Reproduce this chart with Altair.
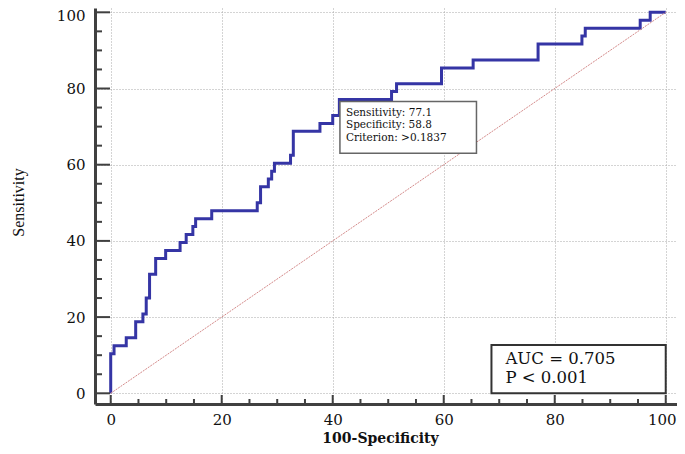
import altair as alt
import pandas as pd

# ROC curve vertices (100-Specificity, Sensitivity): at each fpr the curve rises to tpr
fpr = [0, 0, 0.6, 2.8, 4.5, 5.8, 6.4, 7.0, 8.1, 9.9, 12.5, 13.6, 14.8, 15.3, 18.2,
       26.4, 27.0, 28.4, 29.0, 29.5, 32.4, 32.9, 37.7, 40.0, 41.2,
       50.6, 51.5, 59.6, 65.3, 77.0, 84.9, 85.5, 95.4, 97.2, 100]
tpr = [0, 10.4, 12.5, 14.6, 18.75, 20.8, 25.0, 31.25, 35.4, 37.5, 39.6, 41.7, 43.75, 45.8, 47.9,
       50.0, 54.2, 56.25, 58.3, 60.4, 62.5, 68.75, 70.8, 72.9, 77.1,
       79.2, 81.25, 85.4, 87.5, 91.7, 93.75, 95.8, 97.9, 100, 100]

diag = [0, 100]
major_values = [0, 20, 40, 60, 80, 100]
minor_values = [v for v in range(0, 101, 5) if v % 20 != 0]

crit_box_x = [41.3, 65.9]
crit_box_y = [63.0, 76.6]
crit_lines = ["Sensitivity: 77.1", "Specificity: 58.8", "Criterion: >0.1837"]
crit_text_y = [73.7, 70.4, 67.1]

auc_box_x = [68.6, 100]
auc_box_y = [0, 12.7]
auc_lines = ["AUC = 0.705", "P < 0.001"]
auc_text_y = [9.1, 4.0]

W, H = 582, 396
xs = alt.Scale(domain=[-2.83, 102.03], nice=False, zero=False)
ys = alt.Scale(domain=[-2.81, 101.13], nice=False, zero=False)
AX = "#404040"

xaxis = alt.Axis(values=major_values, grid=True, gridDash=[1, 2], gridColor="#a8a8a8",
                 gridWidth=1, ticks=False, domain=True, domainColor=AX, domainWidth=3,
                 labelFont="DejaVu Serif", labelFontSize=15, labelColor="#111111",
                 labelPadding=8, labelFlush=False, format="d",
                 labelOffset={"condition": {"test": "datum.value == 100", "value": -4},
                              "value": 0},
                 title="100-Specificity", titleFont="DejaVu Serif", titleFontSize=14,
                 titleFontWeight="bold", titleColor="#111111", titleX=285, titleY=34,
                 titleAlign="center", titleBaseline="middle")
yaxis = alt.Axis(values=major_values, grid=True, gridDash=[1, 2], gridColor="#a8a8a8",
                 gridWidth=1, ticks=False, domain=True, domainColor=AX, domainWidth=3,
                 labelFont="DejaVu Serif", labelFontSize=15, labelColor="#111111",
                 labelPadding=10, labelFlush=False, format="d",
                 labelOffset={"condition": {"test": "datum.value == 100", "value": 3},
                              "value": 0},
                 title="Sensitivity", titleFont="Liberation Serif", titleFontSize=16,
                 titleFontWeight="normal", titleColor="#111111", titleAngle=270,
                 titleX=-77, titleY=194, titleAlign="center", titleBaseline="middle")


def X(field):
    return alt.X(field, scale=xs, axis=xaxis)


def Y(field):
    return alt.Y(field, scale=ys, axis=yaxis)


df = pd.DataFrame({"fpr": fpr, "tpr": tpr, "i": list(range(len(fpr)))})

curve = alt.Chart(df).mark_line(interpolate="step-after", color="#3535a5",
                                strokeWidth=3).encode(
    x=X("fpr:Q"), y=Y("tpr:Q"), order="i:Q")

diag_line = alt.Chart(pd.DataFrame({"fpr": diag, "tpr": diag})).mark_line(
    color="#d48a8a", strokeWidth=1, strokeDash=[2, 1]).encode(
    x=X("fpr:Q"), y=Y("tpr:Q"))

ytick_major = alt.Chart(pd.DataFrame({"tpr": major_values})).mark_rule(
    color=AX, strokeWidth=2).encode(y=Y("tpr:Q"), x=alt.value(0), x2=alt.value(15))
ytick_minor = alt.Chart(pd.DataFrame({"tpr": minor_values})).mark_rule(
    color=AX, strokeWidth=2).encode(y=Y("tpr:Q"), x=alt.value(0), x2=alt.value(7))
xtick_major = alt.Chart(pd.DataFrame({"fpr": major_values})).mark_rule(
    color=AX, strokeWidth=2).encode(x=X("fpr:Q"), y=alt.value(H), y2=alt.value(H - 9))
xtick_minor = alt.Chart(pd.DataFrame({"fpr": minor_values})).mark_rule(
    color=AX, strokeWidth=2).encode(x=X("fpr:Q"), y=alt.value(H), y2=alt.value(H - 5))

crit_box = alt.Chart(pd.DataFrame({"fpr": [crit_box_x[0]], "fpr2": [crit_box_x[1]],
                                   "tpr": [crit_box_y[0]], "tpr2": [crit_box_y[1]]})).mark_rect(
    fill="white", stroke="#666666", strokeWidth=1.5).encode(
    x=X("fpr:Q"), x2="fpr2:Q", y=Y("tpr:Q"), y2="tpr2:Q")
crit_text = alt.Chart(pd.DataFrame({"t": crit_lines, "tpr": crit_text_y,
                                    "fpr": [crit_box_x[0]] * 3})).mark_text(
    align="left", baseline="middle", dx=6, font="DejaVu Serif", fontSize=10.5,
    color="#111111").encode(x=X("fpr:Q"), y=Y("tpr:Q"), text="t:N")

auc_box = alt.Chart(pd.DataFrame({"fpr": [auc_box_x[0]], "fpr2": [auc_box_x[1]],
                                  "tpr": [auc_box_y[0]], "tpr2": [auc_box_y[1]]})).mark_rect(
    fill="white", stroke="#333333", strokeWidth=2).encode(
    x=X("fpr:Q"), x2="fpr2:Q", y=Y("tpr:Q"), y2="tpr2:Q")
auc_text = alt.Chart(pd.DataFrame({"t": auc_lines, "tpr": auc_text_y,
                                   "fpr": [auc_box_x[0]] * 2})).mark_text(
    align="left", baseline="middle", dx=14, font="DejaVu Serif", fontSize=16.5,
    color="#111111").encode(x=X("fpr:Q"), y=Y("tpr:Q"), text="t:N")

chart = alt.layer(
    curve, diag_line, crit_box, crit_text, auc_box, auc_text,
    ytick_major, ytick_minor, xtick_major, xtick_minor,
).properties(
    width=W, height=H,
    autosize=alt.AutoSizeParams(type="none"),
    padding={"left": 87, "top": 0, "right": 0, "bottom": 42},
    background="white",
).configure_view(stroke=None)

chart.save("out.html", embed_options={"renderer": "svg", "actions": False})
